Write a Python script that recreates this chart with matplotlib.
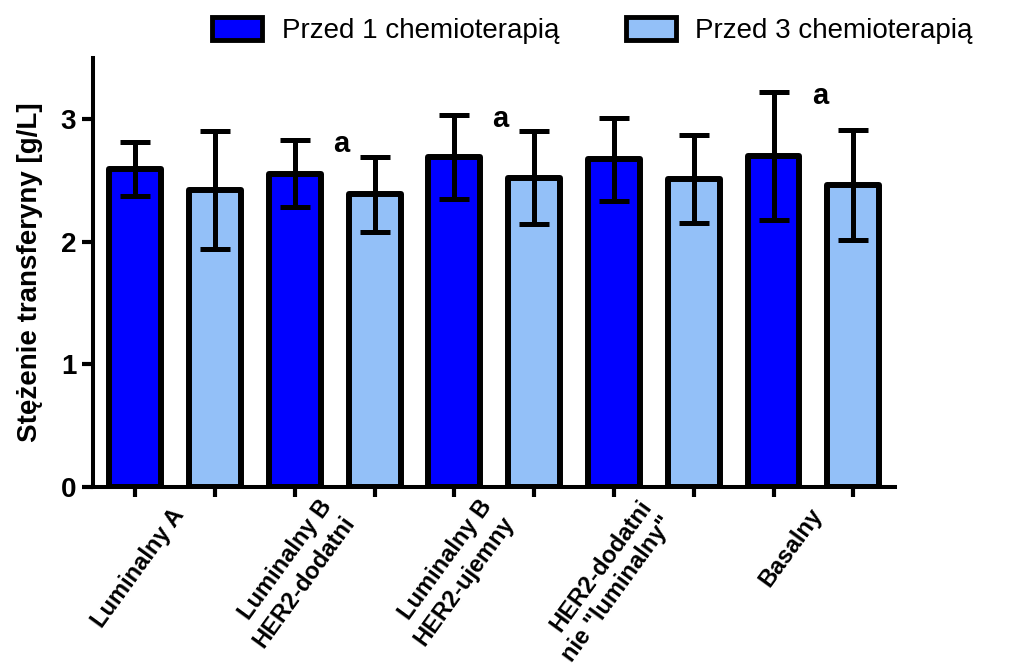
import matplotlib
matplotlib.use("Agg")
import matplotlib.pyplot as plt
from matplotlib.patches import Patch
import numpy as np

plt.rcParams['font.family'] = ['Liberation Sans', 'DejaVu Sans']

# ---- data ----
groups = ["Luminalny A", "Luminalny B\nHER2-dodatni", "Luminalny B\nHER2-ujemny",
          "HER2-dodatni\nnie \"luminalny\"", "Basalny"]
series_names = ["Przed 1 chemioterapią", "Przed 3 chemioterapią"]
before1_mean = [2.59, 2.555, 2.69, 2.67, 2.70]
before1_sd = [0.22, 0.275, 0.34, 0.34, 0.52]
before3_mean = [2.42, 2.385, 2.52, 2.51, 2.46]
before3_sd = [0.48, 0.305, 0.38, 0.36, 0.45]
marked_groups = [1, 2, 4]   # groups whose first series carries the "a" mark
mark_text = "a"
ylabel = "Stężenie transferyny [g/L]"

dark = "#0000FF"
light = "#93C0F8"

fig = plt.figure(figsize=(10.25, 6.7), dpi=100)
ax = fig.add_axes([0.0907, 0.2731, 0.873 - 0.0907, 0.914 - 0.2731])

n = len(groups)
x1 = np.arange(n) * 2
x3 = x1 + 1
w = 0.65
lw_bar = 4.3

ax.bar(x1, before1_mean, width=w, color=dark, edgecolor="black", linewidth=lw_bar,
       zorder=2, joinstyle="round")
ax.bar(x3, before3_mean, width=w, color=light, edgecolor="black", linewidth=lw_bar,
       zorder=2, joinstyle="round")
for xs, m, s in ((x1, before1_mean, before1_sd), (x3, before3_mean, before3_sd)):
    ax.errorbar(xs, m, yerr=s, fmt="none", ecolor="black", elinewidth=3.6,
                capsize=10.5, capthick=3.6, zorder=3)

for g in marked_groups:
    top = before1_mean[g] + before1_sd[g]
    ax.text(x1[g] + 0.58, top - 0.03, mark_text, fontsize=21, fontweight="bold",
            ha="center", va="center", zorder=4)

ax.set_xlim(-0.53, 2 * n - 0.48)
ax.set_ylim(0, 3.5)
ax.set_yticks([0, 1, 2, 3])
ax.set_yticklabels(["0", "1", "2", "3"], fontsize=20, fontweight="bold")
ax.set_xticks(np.arange(2 * n))
ax.set_xticklabels([])
ax.tick_params(axis="y", length=8, width=3, pad=4)
ax.tick_params(axis="x", length=7, width=3)
for sp in ("top", "right"):
    ax.spines[sp].set_visible(False)
for sp in ("left", "bottom"):
    ax.spines[sp].set_linewidth(2.9)

for i, lab in enumerate(groups):
    ax.annotate(lab, xy=((x1[i] + x3[i]) / 2, 0), xycoords=("data", "axes fraction"),
                xytext=(3, -17), textcoords="offset points",
                rotation=54, rotation_mode="anchor", ha="right", va="center",
                multialignment="right", linespacing=1.25,
                fontsize=17, fontweight="bold", annotation_clip=False)

ax.set_ylabel(ylabel, fontsize=20, fontweight="bold", labelpad=13)

handles = [Patch(facecolor=dark, edgecolor="black", linewidth=3.5),
           Patch(facecolor=light, edgecolor="black", linewidth=3.5)]
fig.legend(handles, series_names, loc="center", bbox_to_anchor=(0.578, 0.955),
           ncol=2, frameon=False, fontsize=20, handlelength=1.8, handleheight=0.9,
           handletextpad=0.7, columnspacing=2.4)

fig.savefig("out.png", dpi=100)
